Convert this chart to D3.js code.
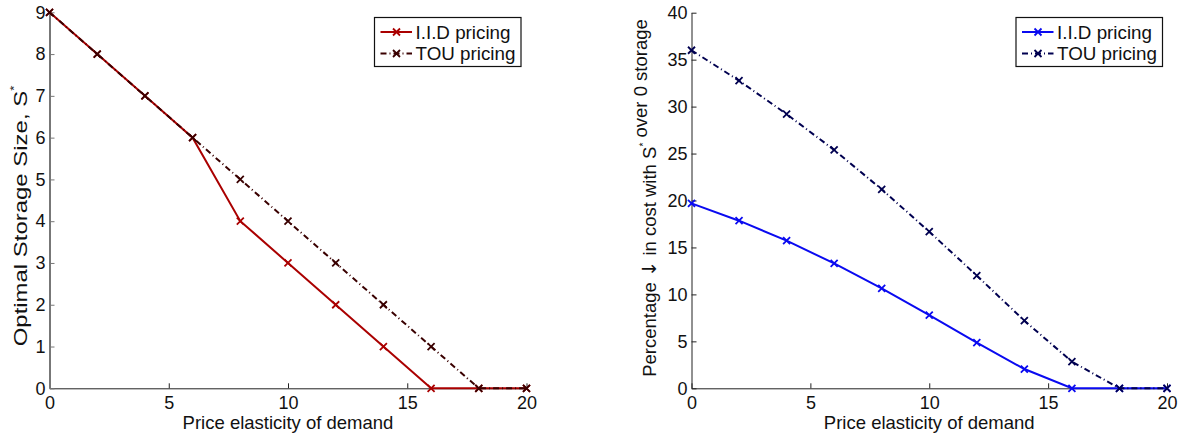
<!DOCTYPE html>
<html>
<head>
<meta charset="utf-8">
<script src="https://cdn.jsdelivr.net/npm/d3@7"></script>
<style>
  body { margin: 0; background: #fff; }
  svg text { font-family: "Liberation Sans", Arial, sans-serif; fill: #111; }
</style>
</head>
<body>
<div id="chart"></div>
<script>
// data
const elasticity = [0, 2, 4, 6, 8, 10, 12, 14, 16, 18, 20];
const storageIID = [9, 8, 7, 6, 4, 3, 2, 1, 0, 0, 0];
const storageTOU = [9, 8, 7, 6, 5, 4, 3, 2, 1, 0, 0];
const savingIID = [19.7, 17.85, 15.72, 13.3, 10.65, 7.8, 4.86, 2.05, 0, 0, 0];
const savingTOU = [36.0, 32.76, 29.2, 25.38, 21.19, 16.68, 12.0, 7.2, 2.84, 0, 0];
const xTicks = [0, 5, 10, 15, 20];
const leftYTicks = [0, 1, 2, 3, 4, 5, 6, 7, 8, 9];
const rightYTicks = [0, 5, 10, 15, 20, 25, 30, 35, 40];
const seriesNames = ["I.I.D pricing", "TOU pricing"];

const width = 1183;
const height = 439;

const svg = d3.select("#chart").append("svg")
  .attr("width", width)
  .attr("height", height);

function panel(cfg) {
  const x = d3.scaleLinear().domain([0, 20]).range([cfg.left, cfg.right]);
  const y = d3.scaleLinear().domain([0, cfg.yMax]).range([cfg.bottom, cfg.top]);
  const g = svg.append("g");

  // x axis, ticks pointing inward
  const xa = g.append("g")
    .attr("transform", `translate(0,${cfg.bottom})`)
    .call(d3.axisBottom(x).tickValues(xTicks).tickSizeInner(-5).tickSizeOuter(0).tickPadding(8));
  xa.selectAll("path, line").attr("stroke", "#222");
  xa.selectAll("text").attr("font-size", 18).attr("font-family", null);

  const ya = g.append("g")
    .attr("transform", `translate(${cfg.left},0)`)
    .call(d3.axisLeft(y).tickValues(cfg.yTicks).tickSizeInner(-5).tickSizeOuter(0).tickPadding(4));
  ya.selectAll("path, line").attr("stroke", cfg.yAxisColor);
  ya.select("path").attr("stroke-width", cfg.yAxisWidth);
  ya.selectAll("text").attr("font-size", 18).attr("font-family", null);
  xa.select(".domain").raise();

  // axis titles
  g.append("text")
    .attr("x", (cfg.left + cfg.right) / 2)
    .attr("y", 429)
    .attr("text-anchor", "middle")
    .attr("font-size", 18.5)
    .text("Price elasticity of demand");

  const yl = g.append("text")
    .attr("transform", `translate(${cfg.yLabelX},${cfg.yLabelY}) rotate(-90) scale(${cfg.yLabelStretch},1)`)
    .attr("text-anchor", "middle")
    .attr("font-size", cfg.yLabelSize);
  cfg.yLabel.forEach(part => {
    if (part === "*") {
      yl.append("tspan").attr("dy", -9).attr("font-size", cfg.yLabelSize * 0.55).text("*");
      yl.append("tspan").attr("dy", 9).text("");
    } else if (part === "\u2193") {
      yl.append("tspan").attr("font-family", "DejaVu Sans").attr("font-size", cfg.yLabelSize * 1.05).text(part);
    } else {
      yl.append("tspan").text(part);
    }
  });

  const line = d3.line().x((d, i) => x(elasticity[i])).y(d => y(d));

  const series = [
    { values: cfg.iid, color: cfg.iidColor, dash: null },
    { values: cfg.tou, color: cfg.touColor, dash: "6,3,1,3" }
  ];

  function cross(sel, cx, cy, color) {
    const r = 3.5;
    sel.append("path")
      .attr("d", `M${cx - r},${cy - r}L${cx + r},${cy + r}M${cx - r},${cy + r}L${cx + r},${cy - r}`)
      .attr("stroke", color)
      .attr("stroke-width", 1.8)
      .attr("fill", "none");
  }

  series.forEach(s => {
    g.append("path")
      .datum(s.values)
      .attr("d", line)
      .attr("fill", "none")
      .attr("stroke", s.color)
      .attr("stroke-width", 2)
      .attr("stroke-dasharray", s.dash);
    s.values.forEach((v, i) => cross(g, x(elasticity[i]), y(v), s.color));
  });

  // legend
  const lg = g.append("g").attr("transform", `translate(${cfg.legendX},17.5)`);
  lg.append("rect")
    .attr("width", 146.5)
    .attr("height", 49)
    .attr("fill", "#fff")
    .attr("stroke", "#111")
    .attr("stroke-width", 1.2);
  series.forEach((s, i) => {
    const ly = 14.5 + i * 21.5;
    lg.append("line")
      .attr("x1", 6).attr("x2", 37.5)
      .attr("y1", ly).attr("y2", ly)
      .attr("stroke", s.color)
      .attr("stroke-width", 2)
      .attr("stroke-dasharray", s.dash);
    cross(lg, 22, ly, s.color);
    lg.append("text")
      .attr("x", 41)
      .attr("y", ly + 6.5)
      .attr("font-size", 18.8)
      .text(seriesNames[i]);
  });
}

panel({
  left: 49.5, right: 526.5, top: 12.3, bottom: 388.3,
  yMax: 9, yTicks: leftYTicks,
  iid: storageIID, tou: storageTOU,
  iidColor: "#aa0000", touColor: "#3a0000",
  yAxisColor: "#777", yAxisWidth: 2,
  yLabel: ["Optimal Storage Size, S", "*"], yLabelX: 26.7, yLabelY: 216, yLabelSize: 19, yLabelStretch: 1.26,
  legendX: 374.5
});

panel({
  left: 691.5, right: 1167, top: 12.7, bottom: 388.3,
  yMax: 40, yTicks: rightYTicks,
  iid: savingIID, tou: savingTOU,
  iidColor: "#0a0af0", touColor: "#000050",
  yAxisColor: "#222", yAxisWidth: 1,
  yLabel: ["Percentage ", "\u2193", " in cost with S", "*", " over 0 storage"], yLabelX: 656, yLabelY: 198, yLabelSize: 18.5, yLabelStretch: 1,
  legendX: 1016
});
</script>
</body>
</html>
